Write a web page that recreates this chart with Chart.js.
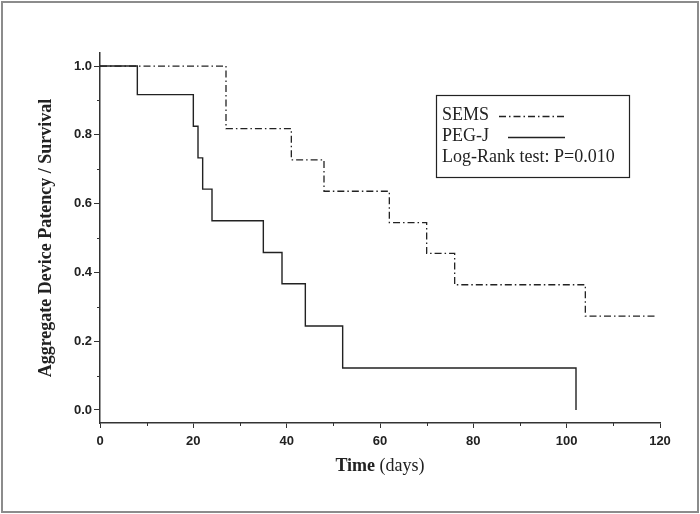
<!DOCTYPE html>
<html>
<head>
<meta charset="utf-8">
<script src="https://cdn.jsdelivr.net/npm/chart.js@4.4.1/dist/chart.umd.min.js"></script>
<style>
  html, body { margin: 0; padding: 0; background: #fff; }
  canvas { display: block; }
</style>
</head>
<body>
<canvas id="km" width="700" height="514"></canvas>
<script>
// Kaplan-Meier steps
const semsDays = [0, 27, 41, 48, 62, 70, 76, 104, 119];
const semsSurv = [1, 0.818, 0.727, 0.636, 0.545, 0.455, 0.364, 0.273, 0.273];
const pegDays = [0, 8, 20, 21, 22, 24, 35, 39, 44, 52, 102];
const pegSurv = [1, 0.917, 0.825, 0.733, 0.642, 0.550, 0.458, 0.367, 0.244, 0.122, 0];

const xTicks = [0, 20, 40, 60, 80, 100, 120];
const xMinor = [10, 30, 50, 70, 90, 110];
const yTicks = [0, 0.2, 0.4, 0.6, 0.8, 1.0];
const yMinor = [0.1, 0.3, 0.5, 0.7, 0.9];

const legendLines = ["SEMS", "PEG-J", "Log-Rank test: P=0.010"];

const SERIF = "'Liberation Serif', 'DejaVu Serif', serif";
const SANS = "'Liberation Sans Narrow', 'Liberation Sans', Arial, sans-serif";
const INK = "#222";
const DASHDOT = [7, 3, 1.5, 3];

const toPoints = (xs, ys) => xs.map((x, i) => ({ x: x, y: ys[i] }));

const extras = {
  id: "extras",
  afterDraw(chart) {
    const ctx = chart.ctx;
    const xs = chart.scales.x, ys = chart.scales.y;
    ctx.save();
    // minor ticks
    ctx.strokeStyle = "#333";
    ctx.lineWidth = 1;
    ctx.beginPath();
    xMinor.forEach(v => {
      const px = Math.round(xs.getPixelForValue(v)) + 0.5;
      ctx.moveTo(px, xs.top); ctx.lineTo(px, xs.top + 3);
    });
    yMinor.forEach(v => {
      const py = Math.round(ys.getPixelForValue(v)) + 0.5;
      ctx.moveTo(ys.right, py); ctx.lineTo(ys.right - 3, py);
    });
    ctx.stroke();

    // x title: "Time" bold + " (days)" normal
    const cx = (chart.chartArea.left + chart.chartArea.right) / 2;
    const ty = 466;
    ctx.fillStyle = INK;
    ctx.textBaseline = "middle";
    ctx.font = "bold 18px " + SERIF;
    const w1 = ctx.measureText("Time").width;
    ctx.font = "18px " + SERIF;
    const w2 = ctx.measureText(" (days)").width;
    const sx = cx - (w1 + w2) / 2;
    ctx.textAlign = "left";
    ctx.font = "bold 18px " + SERIF;
    ctx.fillText("Time", sx, ty);
    ctx.font = "18px " + SERIF;
    ctx.fillText(" (days)", sx + w1, ty);

    // legend box
    ctx.strokeStyle = "#222";
    ctx.lineWidth = 1.2;
    ctx.strokeRect(436.5, 95.5, 193, 82);
    ctx.font = "18px " + SERIF;
    ctx.fillText(legendLines[0], 442, 115);
    ctx.fillText(legendLines[1], 442, 136);
    ctx.fillText(legendLines[2], 442, 157);
    ctx.lineWidth = 1.3;
    ctx.setLineDash(DASHDOT);
    ctx.beginPath(); ctx.moveTo(499, 116.5); ctx.lineTo(565, 116.5); ctx.stroke();
    ctx.setLineDash([]);
    ctx.beginPath(); ctx.moveTo(508, 137.5); ctx.lineTo(565, 137.5); ctx.stroke();

    // outer frame
    ctx.strokeStyle = "#8c8c8c";
    ctx.lineWidth = 2;
    ctx.strokeRect(2, 2, 696, 510);
    ctx.restore();
  }
};

new Chart(document.getElementById("km"), {
  type: "line",
  data: {
    datasets: [
      {
        label: "SEMS",
        data: toPoints(semsDays, semsSurv),
        stepped: "before",
        borderColor: "#222",
        borderWidth: 1.3,
        borderDash: DASHDOT,
        pointRadius: 0,
        fill: false
      },
      {
        label: "PEG-J",
        data: toPoints(pegDays, pegSurv),
        stepped: "before",
        borderColor: "#222",
        borderWidth: 1.4,
        pointRadius: 0,
        fill: false
      }
    ]
  },
  options: {
    responsive: false,
    animation: false,
    layout: { padding: { top: 53, right: 40, left: 0, bottom: 0 } },
    plugins: { legend: { display: false }, tooltip: { enabled: false } },
    scales: {
      x: {
        type: "linear",
        min: 0,
        max: 120,
        afterBuildTicks: s => { s.ticks = xTicks.map(v => ({ value: v })); },
        afterFit: s => { s.height = 91; },
        grid: { drawOnChartArea: false, tickLength: 5, color: "#333", tickColor: "#333" },
        border: { color: "#333", width: 1.5 },
        ticks: { color: INK, padding: 6, maxRotation: 0, font: { family: SANS, size: 13, weight: "bold" } }
      },
      y: {
        type: "linear",
        min: -0.038,
        max: 1.038,
        afterBuildTicks: s => { s.ticks = yTicks.map(v => ({ value: v })); },
        afterFit: s => { s.width = 100; },
        grid: { drawOnChartArea: false, tickLength: 6, color: "#333", tickColor: "#333" },
        border: { color: "#333", width: 1.5 },
        ticks: { color: INK, padding: 2, callback: v => v.toFixed(1), font: { family: SANS, size: 13, weight: "bold" } },
        title: {
          display: true,
          text: "Aggregate Device Patency / Survival",
          color: INK,
          padding: { top: 36, bottom: 0 },
          font: { family: SERIF, size: 18, weight: "bold" }
        }
      }
    }
  },
  plugins: [extras]
});
</script>
</body>
</html>
